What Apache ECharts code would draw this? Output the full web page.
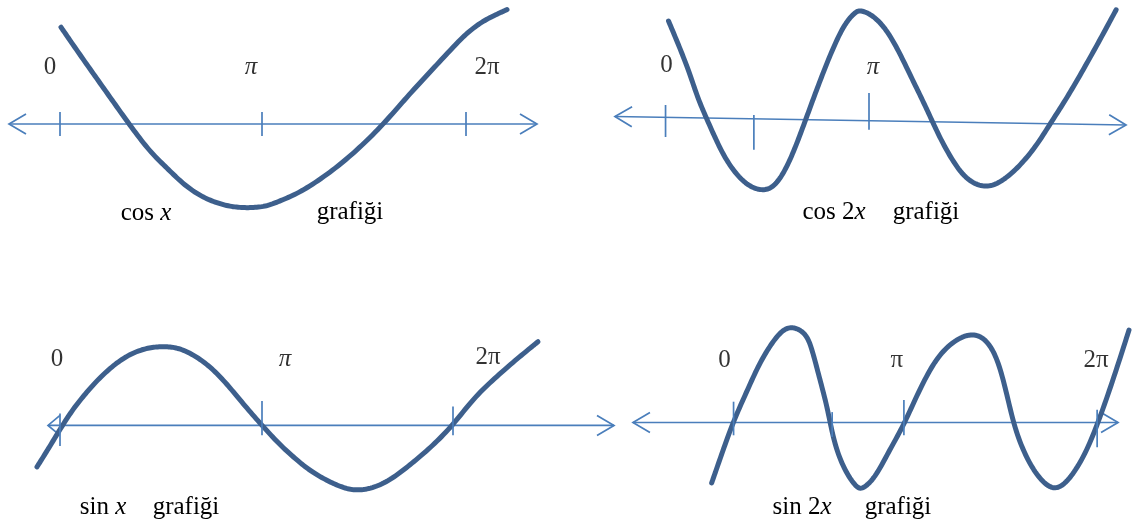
<!DOCTYPE html>
<html>
<head>
<meta charset="utf-8">
<script src="https://cdn.jsdelivr.net/npm/echarts@6/dist/echarts.min.js"></script>
<style>
    html, body { margin: 0; padding: 0; background: #fff; }
    #myChart { width: 1132px; height: 528px; }
</style>
</head>
<body>
<div id="myChart"></div>
<script>
// x in units of pi, y in amplitude units
var cosX = [[0.005, 1.21], [0.09, 0.9], [0.175, 0.6], [0.26, 0.3], [0.345, 0], [0.45, -0.35], [0.535, -0.55],
    [0.615, -0.75], [0.7, -0.9], [0.785, -0.99], [0.865, -1.04], [0.95, -1.05], [1.035, -1.03], [1.1, -0.96],
    [1.2, -0.86], [1.35, -0.61], [1.485, -0.33], [1.615, -0.01], [1.735, 0.34], [1.85, 0.65], [1.965, 0.96],
    [2.035, 1.14], [2.115, 1.29], [2.2, 1.39], [2.235, 1.43]]
var cos2X = [[0.015, 1.2], [0.07, 0.875], [0.12, 0.56], [0.16, 0.25], [0.205, -0.01], [0.255, -0.29], [0.305, -0.54],
    [0.37, -0.76], [0.435, -0.89], [0.505, -0.925], [0.555, -0.85], [0.605, -0.66], [0.655, -0.375], [0.705, -0.04],
    [0.755, 0.3], [0.805, 0.625], [0.855, 0.925], [0.905, 1.175], [0.955, 1.31], [0.98, 1.34], [1.045, 1.275],
    [1.115, 1.09], [1.18, 0.8], [1.245, 0.46], [1.295, 0.21], [1.345, -0.06], [1.395, -0.325], [1.465, -0.625],
    [1.53, -0.81], [1.615, -0.89], [1.695, -0.81], [1.78, -0.625], [1.865, -0.375], [1.94, -0.075], [2.015, 0.21],
    [2.095, 0.55], [2.18, 0.925], [2.27, 1.34]]
var sinX = [[-0.115, -0.525], [-0.065, -0.325], [0, -0.05], [0.065, 0.21], [0.135, 0.425], [0.2, 0.61], [0.285, 0.8],
    [0.365, 0.925], [0.45, 0.99], [0.515, 1.0], [0.585, 0.99], [0.665, 0.9], [0.75, 0.75], [0.835, 0.525],
    [0.915, 0.275], [1.01, 0], [1.1, -0.25], [1.185, -0.44], [1.25, -0.575], [1.335, -0.7], [1.4, -0.775],
    [1.465, -0.825], [1.55, -0.81], [1.65, -0.7], [1.75, -0.5], [1.85, -0.29], [1.965, 0], [2.065, 0.34],
    [2.185, 0.625], [2.3, 0.875], [2.39, 1.06]]
var sin2X = [[-0.11, -0.756], [-0.07, -0.47], [-0.005, -0.006], [0.065, 0.38], [0.13, 0.744], [0.195, 1.006],
    [0.245, 1.156], [0.295, 1.206], [0.365, 1.119], [0.395, 0.906], [0.43, 0.569], [0.465, 0.244], [0.485, -0.006],
    [0.515, -0.344], [0.565, -0.631], [0.615, -0.806], [0.645, -0.844], [0.71, -0.694], [0.775, -0.381],
    [0.855, -0.031], [0.925, 0.369], [1.01, 0.781], [1.095, 1.006], [1.185, 1.119], [1.26, 1.069], [1.325, 0.819],
    [1.375, 0.319], [1.405, -0.006], [1.445, -0.306], [1.51, -0.631], [1.6, -0.869], [1.675, -0.756],
    [1.76, -0.431], [1.83, -0.006], [1.91, 0.569], [1.985, 1.156]]

// tick positions and labels
var ticksCosX = [0, 1.01, 2.03]
var ticksCos2X = [0, 0.445, 1.025]
var ticksSinX = [0, 1.01, 1.965]
var ticksSin2X = [0, 0.495, 0.855, 1.825]
var labelsCosX = ['0', '{i|π}', '2π']
var labelsCos2X = ['0', '{i|π}']
var labelsSinX = ['0', '{i|π}', '2π']
var labelsSin2X = ['0', 'π', '2π']
var captionsCosX = ['{n|cos }{i|x}', 'grafiği']
var captionsCos2X = ['{n|cos 2}{i|x}', 'grafiği']
var captionsSinX = ['{n|sin }{i|x}', 'grafiği']
var captionsSin2X = ['{n|sin 2}{i|x}', 'grafiği']

var SX = 200   // px per unit on x
var SY = 80    // px per unit on y
var curveColor = '#3d5f8c'
var axisColor = '#4a7ebb'
var font = '"Liberation Serif", "DejaVu Serif", serif'

// layout of each drawing (pixels / unit ranges)
var panels = [
    {x0: 60, y0: 124, xmin: -0.3, xmax: 2.45, ymin: -1.3, ymax: 1.5, curve: cosX, ticks: ticksCosX, labels: labelsCosX,
        axis: [-0.255, 0, 2.385, 0], arrows: [[17, 10], [17, 10]],
        tickEnds: [[0.15, -0.15], [0.15, -0.15], [0.15, -0.15]],
        labelAt: [[-0.05, 0.71], [0.955, 0.71], [2.135, 0.71]],
        captions: captionsCosX, captionAt: [[146, 213], [350, 212]]},
    {x0: 666, y0: 117, xmin: -0.3, xmax: 2.35, ymin: -1.3, ymax: 1.45, curve: cos2X, ticks: ticksCos2X, labels: labelsCos2X,
        axis: [-0.255, 0.006, 2.32, -0.1], arrows: [[17, 10], [17, 10]],
        tickEnds: [[0.15, -0.25], [0.025, -0.41], [0.3, -0.16]],
        labelAt: [[0.005, 0.65], [1.045, 0.625]],
        captions: captionsCos2X, captionAt: [[834, 212], [926, 212]]},
    {x0: 60, y0: 427, xmin: -0.3, xmax: 2.85, ymin: -1.3, ymax: 1.5, curve: sinX, ticks: ticksSinX, labels: labelsSinX,
        axis: [-0.06, 0, 2.77, 0], arrows: [[12, 10], [17, 10]],
        tickEnds: [[0.15, -0.26], [0.31, -0.125], [0.24, -0.125]],
        labelAt: [[-0.015, 0.84], [1.125, 0.84], [2.14, 0.86]],
        captions: captionsSinX, captionAt: [[103, 507], [186, 507]]},
    {x0: 734, y0: 422.5, xmin: -0.55, xmax: 2.0, ymin: -1.3, ymax: 1.5, curve: sin2X, ticks: ticksSin2X, labels: labelsSin2X,
        axis: [-0.505, 0, 1.93, 0], arrows: [[17, 10], [17, 10]],
        tickEnds: [[0.26, -0.16], [0.13, -0.18], [0.28, -0.16], [0.16, -0.31]],
        labelAt: [[-0.045, 0.78], [0.82, 0.78], [1.82, 0.78]],
        captions: captionsSin2X, captionAt: [[802, 507], [898, 507]]}
]

var rich = {
    n: {fontFamily: font, fontSize: 25, color: '#000'},
    i: {fontFamily: font, fontSize: 25, fontStyle: 'italic', color: '#000'}
}

function makeAxisRenderer (arrows) {
    return function (params, api) {
        var a = api.coord([api.value(0), api.value(1)])
        var b = api.coord([api.value(2), api.value(3)])
        var dx = b[0] - a[0]
        var dy = b[1] - a[1]
        var len = Math.sqrt(dx * dx + dy * dy)
        var ux = dx / len
        var uy = dy / len
        function chev (t, dir, L, W) {
            return [
                [t[0] - dir * ux * L - uy * W, t[1] - dir * uy * L + ux * W],
                [t[0], t[1]],
                [t[0] - dir * ux * L + uy * W, t[1] - dir * uy * L - ux * W]
            ]
        }
        var style = {stroke: axisColor, lineWidth: 1.7, fill: null}
        return {
            type: 'group',
            children: [
                {type: 'line', shape: {x1: a[0], y1: a[1], x2: b[0], y2: b[1]}, style: style},
                {type: 'polyline', shape: {points: chev(a, -1, arrows[0][0], arrows[0][1])}, style: style},
                {type: 'polyline', shape: {points: chev(b, 1, arrows[1][0], arrows[1][1])}, style: style}
            ]
        }
    }
}

// whole curve drawn once, as a clamped cubic b-spline through the read points
function renderCurve (params, api) {
    if (params.dataIndexInside !== 0) {
        return null
    }
    var n = params.dataInsideLength
    var pts = []
    for (var k = 0; k < n; k++) {
        pts.push(api.coord([api.value(0, k), api.value(1, k)]))
    }
    var c = [pts[0], pts[0]].concat(pts, [pts[n - 1], pts[n - 1]])
    var out = []
    for (var s = 0; s + 3 < c.length; s++) {
        for (var j = 0; j < 10; j++) {
            var t = j / 10
            var b0 = (1 - t) * (1 - t) * (1 - t) / 6
            var b1 = (3 * t * t * t - 6 * t * t + 4) / 6
            var b2 = (-3 * t * t * t + 3 * t * t + 3 * t + 1) / 6
            var b3 = t * t * t / 6
            out.push([
                b0 * c[s][0] + b1 * c[s + 1][0] + b2 * c[s + 2][0] + b3 * c[s + 3][0],
                b0 * c[s][1] + b1 * c[s + 1][1] + b2 * c[s + 2][1] + b3 * c[s + 3][1]
            ])
        }
    }
    out.push(pts[n - 1])
    return {
        type: 'polyline',
        shape: {points: out},
        style: {stroke: curveColor, lineWidth: 5, fill: null, lineCap: 'round', lineJoin: 'round'}
    }
}

function renderTick (params, api) {
    var p1 = api.coord([api.value(0), api.value(1)])
    var p2 = api.coord([api.value(0), api.value(2)])
    return {
        type: 'line',
        shape: {x1: p1[0], y1: p1[1], x2: p2[0], y2: p2[1]},
        style: {stroke: axisColor, lineWidth: 1.7}
    }
}

var grids = []
var xAxes = []
var yAxes = []
var series = []
var graphics = []

panels.forEach(function (p, i) {
    grids.push({
        left: p.x0 + p.xmin * SX,
        top: p.y0 - p.ymax * SY,
        width: (p.xmax - p.xmin) * SX,
        height: (p.ymax - p.ymin) * SY
    })
    xAxes.push({type: 'value', gridIndex: i, min: p.xmin, max: p.xmax, show: false})
    yAxes.push({type: 'value', gridIndex: i, min: p.ymin, max: p.ymax, show: false})

    series.push({
        type: 'custom',
        xAxisIndex: i,
        yAxisIndex: i,
        z: 1,
        silent: true,
        renderItem: makeAxisRenderer(p.arrows),
        data: [p.axis]
    })
    series.push({
        type: 'custom',
        xAxisIndex: i,
        yAxisIndex: i,
        z: 2,
        silent: true,
        renderItem: renderCurve,
        encode: {x: 0, y: 1},
        data: p.curve
    })
    series.push({
        type: 'custom',
        xAxisIndex: i,
        yAxisIndex: i,
        z: 3,
        silent: true,
        renderItem: renderTick,
        data: p.ticks.map(function (t, k) {
            return [t, p.tickEnds[k][0], p.tickEnds[k][1]]
        })
    })
    series.push({
        type: 'scatter',
        xAxisIndex: i,
        yAxisIndex: i,
        z: 4,
        silent: true,
        symbolSize: 1,
        itemStyle: {color: 'rgba(0,0,0,0)'},
        data: p.labels.map(function (lab, k) {
            return {
                value: p.labelAt[k],
                label: {
                    show: true,
                    position: 'inside',
                    formatter: '{n|' + lab.replace(/\{i\|π\}/, '}{i|π}{n|') + '}',
                    rich: rich
                }
            }
        })
    })
    p.captions.forEach(function (c, k) {
        graphics.push({
            type: 'text',
            x: p.captionAt[k][0],
            y: p.captionAt[k][1],
            silent: true,
            style: {
                text: c.indexOf('{') === 0 ? c : '{n|' + c + '}',
                rich: rich,
                align: 'center',
                verticalAlign: 'middle',
                textAlign: 'center',
                textVerticalAlign: 'middle'
            }
        })
    })
})

var myChart = echarts.init(document.getElementById('myChart'))
myChart.setOption({
    animation: false,
    backgroundColor: '#fff',
    grid: grids,
    xAxis: xAxes,
    yAxis: yAxes,
    series: series,
    graphic: graphics
})
window.onresize = myChart.resize
</script>
</body>
</html>
